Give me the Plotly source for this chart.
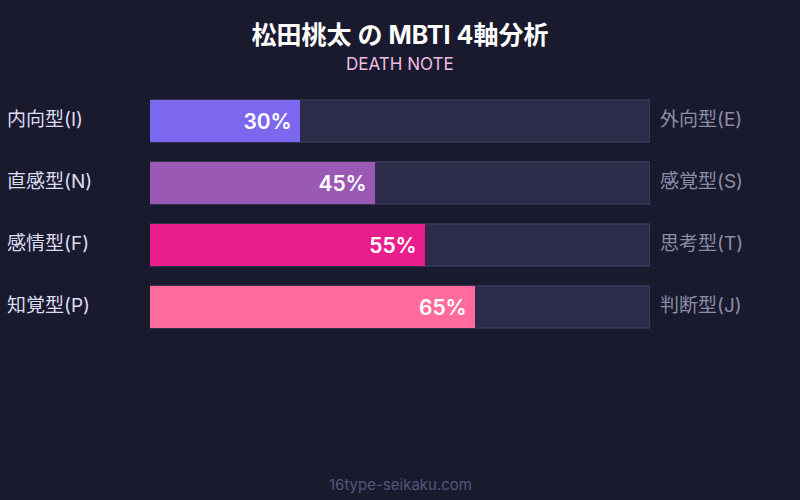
import plotly.graph_objects as go

left_labels = ["内向型(I)", "直感型(N)", "感情型(F)", "知覚型(P)"]
right_labels = ["外向型(E)", "感覚型(S)", "思考型(T)", "判断型(J)"]
values = [30, 45, 55, 65]
track = [100, 100, 100, 100]
colors = ["#7b68ee", "#9b59b6", "#e91e8c", "#ff6b9d"]

BG = "#1a1a2e"
FONT = "Inter, 'Noto Sans CJK JP', sans-serif"

W, H = 800, 500
ML, MR, MT, MB = 150, 150, 90, 162
plot_h = H - MT - MB


def cont_to_paper(py):
    return (H - MB - py) / plot_h


fig = go.Figure()
fig.add_trace(go.Bar(
    x=track, y=left_labels, orientation="h", offsetgroup="g",
    marker=dict(color="#2d2b4a", line=dict(color="#46446a", width=1), cornerradius=0),
    hoverinfo="skip", showlegend=False,
))
fig.add_trace(go.Bar(
    x=values, y=left_labels, orientation="h", offsetgroup="g",
    marker=dict(color=colors, line=dict(width=0), cornerradius=8),
    text=[f"{v}% " for v in values],
    textposition="inside", insidetextanchor="end",
    textfont=dict(color="white", size=21, family=FONT, weight=600),
    showlegend=False,
))

annotations = []
for lab, rlab in zip(left_labels, right_labels):
    annotations.append(dict(
        x=(5 - ML) / (W - ML - MR), y=lab, xref="paper", yref="y", text=lab, showarrow=False,
        xanchor="left", yanchor="middle", yshift=2,
        font=dict(size=19, color="#dcdcf0", family=FONT),
    ))
    annotations.append(dict(
        x=(658 - ML) / (W - ML - MR), y=lab, xref="paper", yref="y", text=rlab, showarrow=False,
        xanchor="left", yanchor="middle", yshift=2,
        font=dict(size=19, color="#8c8ca6", family=FONT),
    ))
annotations.append(dict(
    x=0.5, y=cont_to_paper(64), xref="paper", yref="paper", text="DEATH NOTE",
    showarrow=False, xanchor="center", yanchor="middle",
    font=dict(size=17, color="#f0bde0", family=FONT),
))
annotations.append(dict(
    x=0.5, y=cont_to_paper(484), xref="paper", yref="paper", text="16type-seikaku.com",
    showarrow=False, xanchor="center", yanchor="middle",
    font=dict(size=15, color="#55557a", family=FONT),
))

fig.update_layout(
    width=W, height=H,
    paper_bgcolor=BG, plot_bgcolor=BG,
    barmode="group", bargap=0.32,
    margin=dict(l=ML, r=MR, t=MT, b=MB, pad=0),
    title=dict(
        text="松田桃太 の MBTI 4軸分析", x=0.5, xanchor="center",
        y=1 - 35 / H, yanchor="middle", yref="container",
        font=dict(size=25, color="white", family=FONT, weight=700),
    ),
    xaxis=dict(range=[0, 100], visible=False, fixedrange=True),
    yaxis=dict(autorange="reversed", visible=False, fixedrange=True),
    annotations=annotations,
)

fig.write_html(
    "out.html",
    config={"displayModeBar": False},
    post_script="document.body.style.margin='0';document.body.style.background='" + BG + "';",
)
